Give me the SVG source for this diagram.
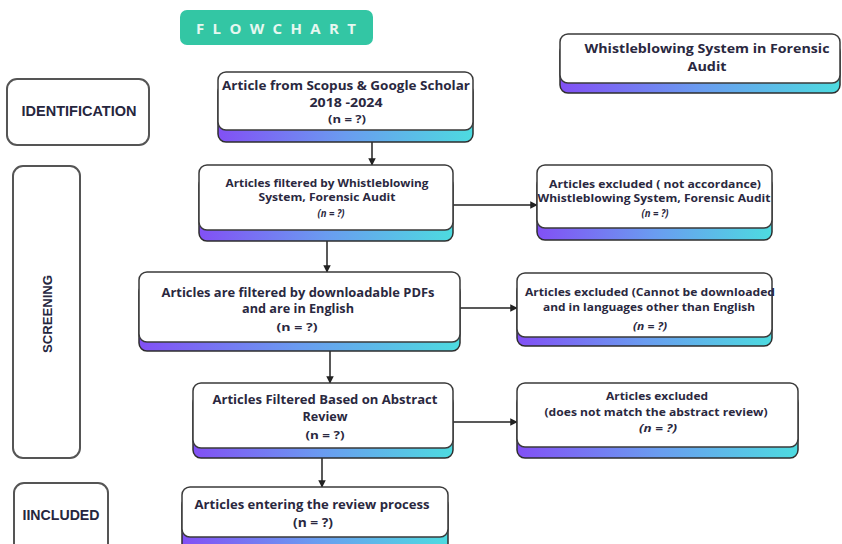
<svg xmlns="http://www.w3.org/2000/svg" width="842" height="544" viewBox="0 0 842 544">
<defs>
<linearGradient id="g" x1="0" y1="0" x2="1" y2="0">
<stop offset="0" stop-color="#8250f5"/>
<stop offset="0.5" stop-color="#6a9cf0"/>
<stop offset="1" stop-color="#4ddbe0"/>
</linearGradient>
<marker id="ah" viewBox="0 0 10 10" refX="9" refY="5" markerWidth="5" markerHeight="5" orient="auto">
<path d="M0,0 L10,5 L0,10 z" fill="#222"/>
</marker>
<style>
.sh{fill:url(#g);stroke:#2e2e2e;stroke-width:1.5}
.bx{fill:#fff;stroke:#3a3a3a;stroke-width:1.5}
.lb{fill:#fff;stroke:#555;stroke-width:2}
.t{font-family:"Open Sans","Liberation Sans",sans-serif;font-weight:700;fill:#2a2840;text-anchor:middle}
.s{font-family:"Liberation Sans",Arial,sans-serif;font-weight:700;fill:#26263e;text-anchor:middle}
.c{stroke:#222;stroke-width:1.5;fill:none;marker-end:url(#ah)}
</style>
</defs>
<rect width="842" height="544" fill="#fff"/>

<g id="title">
<rect x="180" y="10" width="193" height="35" rx="7" fill="#33c6a4"/>
<text x="276" y="33.5" font-family="Open Sans, Liberation Sans, sans-serif" font-weight="700" font-size="15" fill="#e6f7f0" text-anchor="middle" textLength="160" lengthAdjust="spacing">FLOWCHART</text>
</g>

<g id="topic">
<rect class="sh" x="560" y="44" width="280" height="49" rx="8"/>
<rect class="bx" x="560" y="34" width="280" height="49" rx="8"/>
<text class="t" x="707" y="53" font-size="13" textLength="245" lengthAdjust="spacingAndGlyphs">Whistleblowing System in Forensic</text>
<text class="t" x="707" y="71" font-size="13" textLength="39" lengthAdjust="spacingAndGlyphs">Audit</text>
</g>

<g id="identification">
<rect class="lb" x="7" y="79" width="142" height="66" rx="10"/>
<text class="s" x="79" y="116" font-size="14" textLength="115" lengthAdjust="spacingAndGlyphs">IDENTIFICATION</text>
</g>

<g id="screening">
<rect class="lb" x="13" y="166" width="67" height="292" rx="10"/>
<text class="s" transform="translate(52,314) rotate(-90)" x="0" y="0" font-size="13" textLength="78" lengthAdjust="spacingAndGlyphs">SCREENING</text>
</g>

<g id="included">
<rect class="lb" x="14" y="483" width="94" height="80" rx="10"/>
<text class="s" x="61" y="520" font-size="14" textLength="77" lengthAdjust="spacingAndGlyphs">IINCLUDED</text>
</g>

<g id="connectors">
<line class="c" x1="372" y1="142" x2="372" y2="165"/>
<line class="c" x1="453" y1="205" x2="537" y2="205"/>
<line class="c" x1="327" y1="241" x2="327" y2="272"/>
<line class="c" x1="460" y1="308" x2="517" y2="308"/>
<line class="c" x1="330" y1="351" x2="330" y2="383"/>
<line class="c" x1="453" y1="422" x2="517" y2="422"/>
<line class="c" x1="322" y1="458" x2="322" y2="487"/>
</g>

<g id="n1">
<rect class="sh" x="218" y="84" width="255" height="58" rx="8"/>
<rect class="bx" x="218" y="72" width="255" height="58" rx="8"/>
<text class="t" x="346" y="90" font-size="12" textLength="248" lengthAdjust="spacingAndGlyphs">Article from  Scopus &amp; Google Scholar</text>
<text class="t" x="346" y="107" font-size="12" textLength="73" lengthAdjust="spacingAndGlyphs">2018 -2024</text>
<text class="t" x="347" y="123" font-size="11" textLength="38" lengthAdjust="spacingAndGlyphs">(n = ?)</text>
</g>

<g id="n2">
<rect class="sh" x="199" y="177" width="254" height="64" rx="8"/>
<rect class="bx" x="199" y="165" width="254" height="65" rx="8"/>
<text class="t" x="327" y="187" font-size="11" textLength="203" lengthAdjust="spacingAndGlyphs">Articles filtered by Whistleblowing</text>
<text class="t" x="327" y="201" font-size="11" textLength="137" lengthAdjust="spacingAndGlyphs">System, Forensic  Audit</text>
<text class="t" x="331" y="217" font-size="10" font-style="italic" textLength="27" lengthAdjust="spacingAndGlyphs">(n = ?)</text>
</g>

<g id="x1">
<rect class="sh" x="537" y="177" width="235" height="63" rx="8"/>
<rect class="bx" x="537" y="165" width="235" height="63" rx="8"/>
<text class="t" x="655" y="188" font-size="11" textLength="212" lengthAdjust="spacingAndGlyphs">Articles excluded ( not accordance)</text>
<text class="t" x="654" y="202" font-size="11" textLength="233" lengthAdjust="spacingAndGlyphs">Whistleblowing System,  Forensic Audit</text>
<text class="t" x="655" y="217" font-size="10" font-style="italic" textLength="27" lengthAdjust="spacingAndGlyphs">(n = ?)</text>
</g>

<g id="n3">
<rect class="sh" x="139" y="284" width="321" height="67" rx="8"/>
<rect class="bx" x="139" y="272" width="321" height="70" rx="8"/>
<text class="t" x="298" y="297" font-size="12" textLength="273" lengthAdjust="spacingAndGlyphs">Articles are filtered by downloadable PDFs</text>
<text class="t" x="298" y="313" font-size="12" textLength="112" lengthAdjust="spacingAndGlyphs">and are in English</text>
<text class="t" x="297" y="331" font-size="11" textLength="41" lengthAdjust="spacingAndGlyphs">(n = ?)</text>
</g>

<g id="x2">
<rect class="sh" x="517" y="283" width="255" height="63" rx="8"/>
<rect class="bx" x="517" y="273" width="255" height="64" rx="8"/>
<text class="t" x="650" y="296" font-size="11" textLength="250" lengthAdjust="spacingAndGlyphs">Articles excluded (Cannot be downloaded</text>
<text class="t" x="649" y="311" font-size="11" textLength="212" lengthAdjust="spacingAndGlyphs">and in languages other than English</text>
<text class="t" x="650" y="330" font-size="10" font-style="italic" textLength="34" lengthAdjust="spacingAndGlyphs">(n = ?)</text>
</g>

<g id="n4">
<rect class="sh" x="193" y="395" width="260" height="63" rx="8"/>
<rect class="bx" x="193" y="383" width="260" height="65" rx="8"/>
<text class="t" x="325" y="404" font-size="12" textLength="225" lengthAdjust="spacingAndGlyphs">Articles Filtered Based on Abstract</text>
<text class="t" x="325" y="421" font-size="12" textLength="45" lengthAdjust="spacingAndGlyphs">Review</text>
<text class="t" x="325" y="439" font-size="11" textLength="39" lengthAdjust="spacingAndGlyphs">(n = ?)</text>
</g>

<g id="x3">
<rect class="sh" x="517" y="395" width="281" height="63" rx="8"/>
<rect class="bx" x="517" y="383" width="281" height="64" rx="8"/>
<text class="t" x="657" y="400" font-size="11" textLength="102" lengthAdjust="spacingAndGlyphs">Articles excluded</text>
<text class="t" x="656" y="416" font-size="11" textLength="223" lengthAdjust="spacingAndGlyphs">(does not match the abstract review)</text>
<text class="t" x="658" y="432" font-size="10" font-style="italic" textLength="38" lengthAdjust="spacingAndGlyphs">(n = ?)</text>
</g>

<g id="n5">
<rect class="sh" x="182" y="497" width="266" height="55" rx="8"/>
<rect class="bx" x="182" y="487" width="266" height="50" rx="8"/>
<text class="t" x="312" y="509" font-size="12" textLength="235" lengthAdjust="spacingAndGlyphs">Articles entering the review process</text>
<text class="t" x="313" y="527" font-size="12" textLength="40" lengthAdjust="spacingAndGlyphs">(n = ?)</text>
</g>
</svg>
